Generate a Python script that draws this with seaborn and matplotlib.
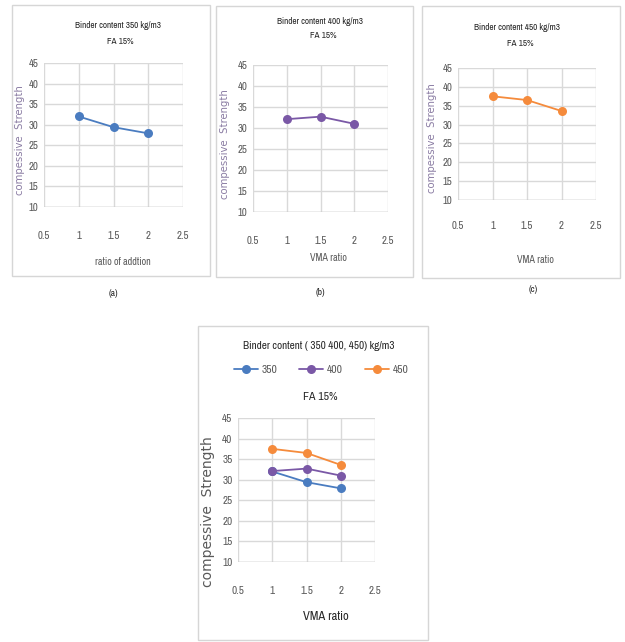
import matplotlib
matplotlib.use("Agg")
import matplotlib.pyplot as plt
from matplotlib.patches import Rectangle
from matplotlib.lines import Line2D
import seaborn as sns
import pandas as pd
import logging

logging.getLogger("matplotlib.font_manager").setLevel(logging.ERROR)

# Series values
vma_ratio = [1.0, 1.5, 2.0]
strength_350 = [32.0, 29.4, 27.9]
strength_400 = [32.1, 32.7, 31.0]
strength_450 = [37.5, 36.5, 33.6]
binder_labels = ["350", "400", "450"]
x_ticks = [0.5, 1, 1.5, 2, 2.5]
y_ticks = [10, 15, 20, 25, 30, 35, 40, 45]

C_BLUE = "#4a7cc0"
C_PURPLE = "#7a58a6"
C_ORANGE = "#f58b3c"
GRID = "#d9d9d9"
TICK = "#595959"

NARROW = ["Liberation Sans Narrow", "Archivo Narrow", "PT Sans Narrow", "Roboto Condensed",
          "Liberation Sans", "DejaVu Sans"]

sns.set_theme(style="white")
plt.rcParams["font.family"] = NARROW

W, H = 625, 642
fig = plt.figure(figsize=(W / 100, H / 100), dpi=100)


def fx(px):
    return px / W


def fy(py):
    return 1 - py / H


def box(x0, y0, x1, y1):
    fig.patches.append(Rectangle((fx(x0), fy(y1)), fx(x1 - x0), (y1 - y0) / H,
                                 transform=fig.transFigure, fill=False,
                                 edgecolor="#d6d6d6", linewidth=1.0))


def make_axes(left, right, top, bottom, tick_size, pad):
    ax = fig.add_axes([fx(left), fy(bottom), fx(right - left), (bottom - top) / H])
    ax.set_xlim(0.5, 2.5)
    ax.set_ylim(10, 45)
    ax.set_xticks(x_ticks)
    ax.set_xticklabels(["0.5", "1", "1.5", "2", "2.5"])
    ax.set_yticks(y_ticks)
    ax.grid(True, color=GRID, linewidth=1.0)
    for s in ax.spines.values():
        s.set_visible(False)
    ax.axhline(10, color="#bfbfbf", linewidth=1.0, zorder=1)
    ax.tick_params(axis="both", length=0, labelsize=tick_size, labelcolor=TICK)
    ax.tick_params(axis="x", pad=pad)
    ax.tick_params(axis="y", pad=4)
    return ax


def draw(ax, y, color, label=None):
    df = pd.DataFrame({"ratio": vma_ratio, "strength": y})
    sns.lineplot(data=df, x="ratio", y="strength", ax=ax, color=color,
                 marker="o", markersize=6.5, markeredgewidth=0, linewidth=1.3,
                 label=label, legend=False, zorder=3)
    ax.set_xlabel("")
    ax.set_ylabel("")


def ylab(x, y, size, color):
    fig.text(fx(x), fy(y), "compessive  Strength", rotation=90, ha="center", va="center",
             fontsize=size, color=color, family="DejaVu Sans")


TOP_T = 6.6

# ---- panel (a) ----
box(12, 5, 210, 276)
ax_a = make_axes(44, 183, 63, 207, 7.8, 17)
draw(ax_a, strength_350, C_BLUE)
fig.text(fx(118), fy(25), "Binder content 350 kg/m3", ha="center", va="center", fontsize=TOP_T, color="#262626")
fig.text(fx(120), fy(42), "FA 15%", ha="center", va="center", fontsize=TOP_T, color="#262626")
ylab(20, 140, 7.3, "#8a7ca3")
fig.text(fx(123), fy(262), "ratio of addtion", ha="center", va="center", fontsize=7.3, color="#595959")
fig.text(fx(113), fy(293), "(a)", ha="center", va="center", fontsize=6.8, color="#262626")

# ---- panel (b) ----
box(216, 6, 413, 277)
ax_b = make_axes(253, 388, 65, 212, 7.8, 17)
draw(ax_b, strength_400, C_PURPLE)
fig.text(fx(320), fy(22), "Binder content 400 kg/m3", ha="center", va="center", fontsize=TOP_T, color="#262626")
fig.text(fx(323), fy(36), "FA 15%", ha="center", va="center", fontsize=TOP_T, color="#262626")
ylab(225, 144, 7.3, "#8a7ca3")
fig.text(fx(328), fy(258), "VMA ratio", ha="center", va="center", fontsize=7.3, color="#595959")
fig.text(fx(320), fy(292), "(b)", ha="center", va="center", fontsize=6.8, color="#262626")

# ---- panel (c) ----
box(422, 6, 620, 278)
ax_c = make_axes(458, 596, 68, 200, 7.8, 15)
draw(ax_c, strength_450, C_ORANGE)
fig.text(fx(517), fy(28), "Binder content 450 kg/m3", ha="center", va="center", fontsize=TOP_T, color="#262626")
fig.text(fx(520), fy(43), "FA 15%", ha="center", va="center", fontsize=TOP_T, color="#262626")
ylab(432, 138, 7.3, "#8a7ca3")
fig.text(fx(535), fy(260), "VMA ratio", ha="center", va="center", fontsize=7.3, color="#595959")
fig.text(fx(533), fy(290), "(c)", ha="center", va="center", fontsize=6.8, color="#262626")

# ---- combined panel ----
box(198, 326, 428, 640)
ax_d = make_axes(238, 375, 418, 562, 8, 17)
for vals, col, lab in zip([strength_350, strength_400, strength_450],
                          [C_BLUE, C_PURPLE, C_ORANGE], binder_labels):
    draw(ax_d, vals, col, lab)
fig.text(fx(319), fy(346), "Binder content ( 350 400, 450) kg/m3", ha="center", va="center",
         fontsize=8, color="#262626")
handles = [Line2D([], [], color=c, marker="o", markersize=6.5, markeredgewidth=0, linewidth=1.3)
           for c in [C_BLUE, C_PURPLE, C_ORANGE]]
fig.legend(handles, binder_labels, loc="center", bbox_to_anchor=(fx(321), fy(370)),
           ncol=3, frameon=False, fontsize=8.3, handlelength=2.1, handletextpad=0.3,
           columnspacing=1.9, labelcolor="#595959")
fig.text(fx(320), fy(397), "FA 15%", ha="center", va="center", fontsize=8.5, color="#262626")
ylab(208, 512, 10, "#595959")
fig.text(fx(326), fy(616), "VMA ratio", ha="center", va="center", fontsize=9, color="#262626")

fig.savefig("out.png", dpi=100)
